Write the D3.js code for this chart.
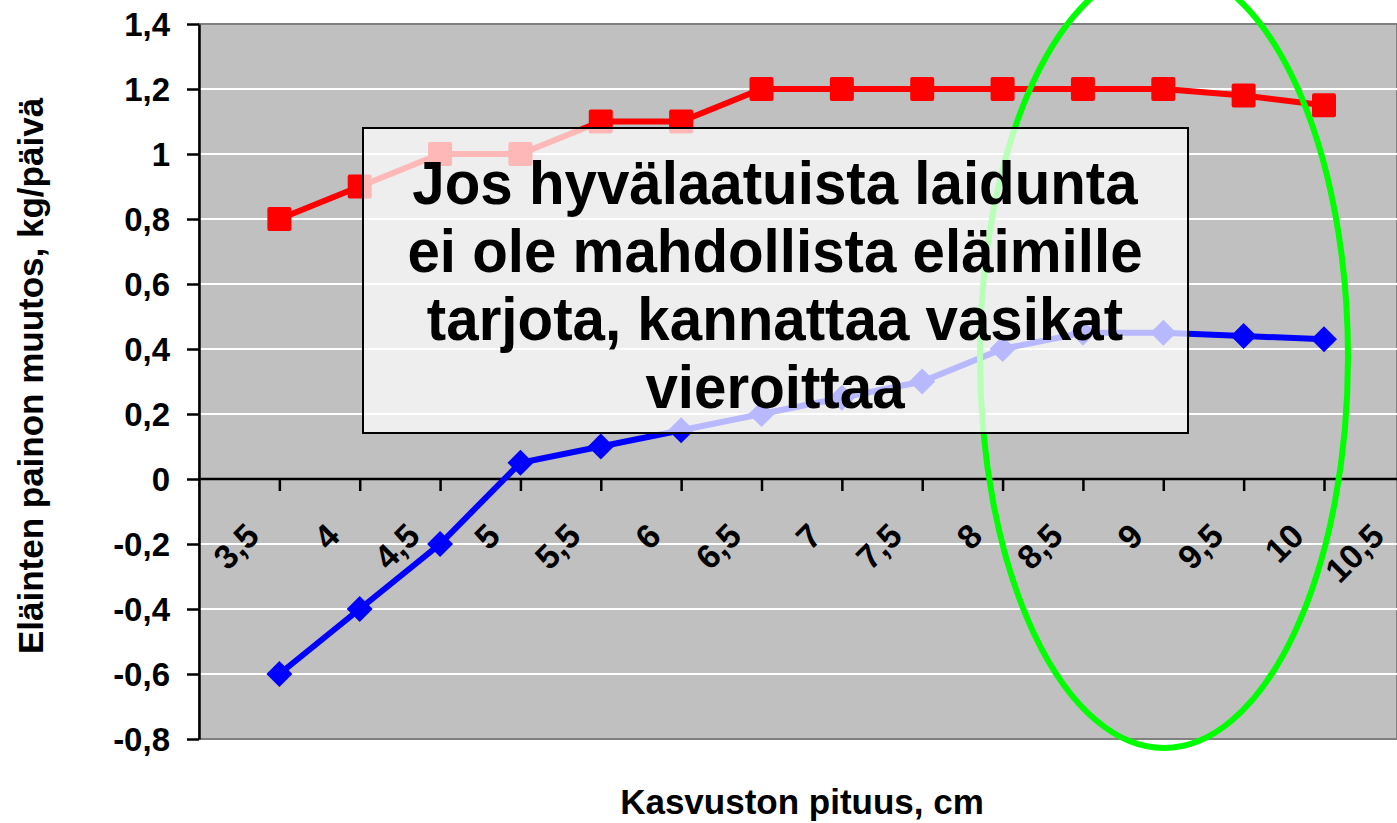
<!DOCTYPE html>
<html>
<head>
<meta charset="utf-8">
<script src="https://cdn.jsdelivr.net/npm/d3@7"></script>
<style>
  html, body { margin: 0; padding: 0; background: #fff; }
  svg { display: block; font-family: "Liberation Sans", Arial, sans-serif; }
</style>
</head>
<body>
<div id="chart"></div>
<script>
// x positions of the measured points (cm)
const pointX = [3.75, 4.25, 4.75, 5.25, 5.75, 6.25, 6.75, 7.25, 7.75, 8.25, 8.75, 9.25, 9.75, 10.25];
// red series (squares)
const redValues = [0.8, 0.9, 1.0, 1.0, 1.1, 1.1, 1.2, 1.2, 1.2, 1.2, 1.2, 1.2, 1.18, 1.15];
// blue series (diamonds)
const blueValues = [-0.6, -0.4, -0.2, 0.05, 0.1, 0.15, 0.2, 0.25, 0.3, 0.4, 0.45, 0.45, 0.44, 0.43];
// category labels under the axis
const xLabelValues = [3.5, 4, 4.5, 5, 5.5, 6, 6.5, 7, 7.5, 8, 8.5, 9, 9.5, 10, 10.5];
const xLabels = ["3,5", "4", "4,5", "5", "5,5", "6", "6,5", "7", "7,5", "8", "8,5", "9", "9,5", "10", "10,5"];
const yTicks = [-0.8, -0.6, -0.4, -0.2, 0, 0.2, 0.4, 0.6, 0.8, 1, 1.2, 1.4];
const noteLines = ["Jos hyvälaatuista laidunta", "ei ole mahdollista eläimille", "tarjota, kannattaa vasikat", "vieroittaa"];

const width = 1397, height = 823;
const plot = {left: 199, right: 1397, top: 24, bottom: 739};

const svg = d3.select('#chart').append('svg')
    .attr('width', width)
    .attr('height', height);

const x = d3.scaleLinear().domain([3.25, 10.25]).range([plot.left, 1324]);
const y = d3.scaleLinear().domain([-0.8, 1.4]).range([plot.bottom, plot.top]);

// plot background
svg.append('rect')
    .attr('x', plot.left).attr('y', y(1.4))
    .attr('width', plot.right - plot.left).attr('height', y(-0.8) - y(1.4))
    .style('fill', '#c0c0c0')
    .style('stroke', '#808080')
    .style('stroke-width', 2);

// gridlines
svg.append('g')
    .selectAll('line')
    .data(yTicks.filter(d => d > -0.8 && d < 1.4 && d !== 0))
    .enter()
    .append('line')
    .attr('x1', plot.left).attr('x2', plot.right)
    .attr('y1', d => y(d)).attr('y2', d => y(d))
    .style('stroke', '#fff')
    .style('stroke-width', 2);

// y axis
const yAxis = svg.append('g')
    .attr('transform', `translate(${plot.left},0)`)
    .call(d3.axisLeft(y).tickValues(yTicks).tickSize(12).tickSizeOuter(0)
        .tickFormat(d => String(d).replace('.', ',')));
yAxis.select('.domain').style('stroke', '#000').style('stroke-width', 2.5);
yAxis.selectAll('.tick line').style('stroke', '#000').style('stroke-width', 2.5);
yAxis.selectAll('.tick text')
    .attr('x', -29)
    .attr('dy', '0.36em')
    .style('font-size', '33px')
    .style('font-weight', 'bold')
    .style('fill', '#000');

// x axis at zero
const xAxis = svg.append('g')
    .attr('transform', `translate(0,${y(0)})`)
    .call(d3.axisBottom(x).tickValues(pointX).tickSize(12).tickSizeOuter(0).tickFormat(''));
xAxis.select('.domain').attr('d', `M${plot.left},0H${plot.right}`)
    .style('stroke', '#000').style('stroke-width', 2.5);
xAxis.selectAll('.tick line').style('stroke', '#000').style('stroke-width', 2.5);

// rotated category labels
svg.append('g')
    .selectAll('text')
    .data(xLabelValues)
    .enter()
    .append('text')
    .attr('transform', d => `translate(${x(d) + 22},538) rotate(-45)`)
    .attr('text-anchor', 'end')
    .text((d, i) => xLabels[i])
    .style('font-size', '34px')
    .style('font-weight', 'bold')
    .style('fill', '#000');

// series
const line = d3.line().x((d, i) => x(pointX[i])).y(d => y(d));

svg.append('path')
    .datum(redValues)
    .attr('d', line)
    .style('fill', 'none')
    .style('stroke', '#ff0000')
    .style('stroke-width', 6);

svg.append('g')
    .selectAll('rect')
    .data(redValues)
    .enter()
    .append('rect')
    .attr('x', (d, i) => x(pointX[i]) - 12)
    .attr('y', d => y(d) - 12)
    .attr('width', 24).attr('height', 24)
    .attr('rx', 2)
    .style('fill', '#ff0000');

svg.append('path')
    .datum(blueValues)
    .attr('d', line)
    .style('fill', 'none')
    .style('stroke', '#0000ff')
    .style('stroke-width', 6);

svg.append('g')
    .selectAll('path')
    .data(blueValues)
    .enter()
    .append('path')
    .attr('d', d3.symbol().type(d3.symbolSquare).size(26 * 26 / 2))
    .attr('transform', (d, i) => `translate(${x(pointX[i])},${y(d)}) rotate(45)`)
    .style('fill', '#0000ff');

// highlight ellipse
svg.append('ellipse')
    .attr('cx', 1164).attr('cy', 357)
    .attr('rx', 184).attr('ry', 391)
    .style('fill', 'none')
    .style('stroke', '#00ff00')
    .style('stroke-width', 6);

// note box
const note = svg.append('g');
note.append('rect')
    .attr('x', 363).attr('y', 128)
    .attr('width', 825).attr('height', 305)
    .style('fill', '#fff')
    .style('fill-opacity', 0.72)
    .style('stroke', '#000')
    .style('stroke-width', 2);

// text in the box is a bit narrow and tall
note.selectAll('text')
    .data(noteLines)
    .enter()
    .append('text')
    .attr('transform', (d, i) => `translate(775,${204 + i * 68}) scale(0.94,1)`)
    .attr('text-anchor', 'middle')
    .text(d => d)
    .style('font-size', '62px')
    .style('font-weight', 'bold')
    .style('fill', '#000');

// axis titles
svg.append('text')
    .attr('transform', 'translate(43,376) rotate(-90)')
    .attr('text-anchor', 'middle')
    .text('Eläinten painon muutos, kg/päivä')
    .style('font-size', '35px')
    .style('font-weight', 'bold');

svg.append('text')
    .attr('x', 802).attr('y', 814)
    .attr('text-anchor', 'middle')
    .text('Kasvuston pituus, cm')
    .style('font-size', '35px')
    .style('font-weight', 'bold');
</script>
</body>
</html>
